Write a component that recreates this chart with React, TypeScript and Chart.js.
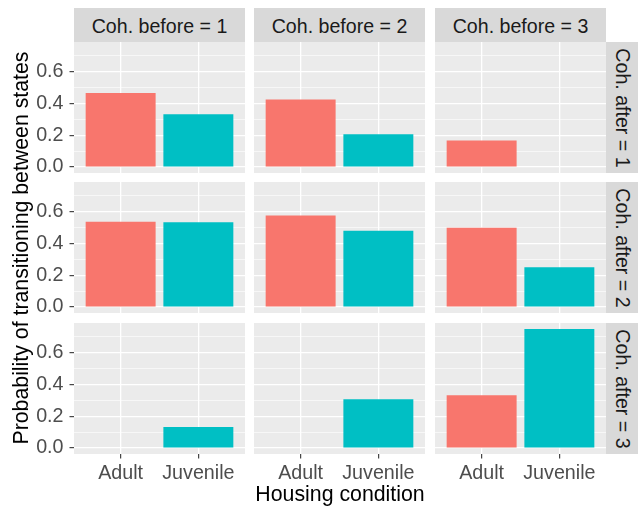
import React, { useEffect, useRef } from 'react';
import { Chart, registerables } from 'chart.js';

Chart.register(...registerables);

// ---- data ----
const conditions = ['Adult', 'Juvenile'];
const beforeLabels = ['Coh. before = 1', 'Coh. before = 2', 'Coh. before = 3'];
const afterLabels = ['Coh. after = 1', 'Coh. after = 2', 'Coh. after = 3'];
const adultAfter1 = [0.467, 0.425, 0.167];
const juvenileAfter1 = [0.333, 0.206, null];
const adultAfter2 = [0.537, 0.577, 0.5];
const juvenileAfter2 = [0.534, 0.48, 0.25];
const adultAfter3 = [null, null, 0.333];
const juvenileAfter3 = [0.133, 0.308, 0.75];
const yMajorTicks = [0, 0.2, 0.4, 0.6];
const yMinorTicks = [0.1, 0.3, 0.5, 0.7];
const yTickLabels = ['0.0', '0.2', '0.4', '0.6'];
const fillColors = ['#F8766D', '#00BFC4'];

const adultRows = [adultAfter1, adultAfter2, adultAfter3];
const juvenileRows = [juvenileAfter1, juvenileAfter2, juvenileAfter3];

// ---- layout ----
const FONT = '"Liberation Sans", Arial, Helvetica, sans-serif';
const colLeft = [74, 254, 435];
const rowTop = [42, 182, 323];
const PW = 171;
const PH = 131;
const M = 10;
const YAXW = 74;
const XAXH = 34;

const panelBg = {
  id: 'panelBg',
  beforeDraw(chart: any) {
    const { ctx, chartArea } = chart;
    ctx.save();
    ctx.fillStyle = '#EBEBEB';
    ctx.fillRect(chartArea.left, chartArea.top, chartArea.right - chartArea.left, chartArea.bottom - chartArea.top);
    ctx.restore();
  },
};

const isMajor = (v: number) => Math.round(v * 10) % 2 === 0;

function Panel({ row, col }: { row: number; col: number }) {
  const ref = useRef<HTMLCanvasElement>(null);
  const left = col === 0 ? 0 : colLeft[col] - M;
  const top = rowTop[row] - M;
  const width = colLeft[col] + PW + M - left;
  const height = PH + M + (row === 2 ? XAXH : M);

  useEffect(() => {
    const values = [adultRows[row][col], juvenileRows[row][col]];
    const showY = col === 0;
    const showX = row === 2;
    const chart = new Chart(ref.current as HTMLCanvasElement, {
      type: 'bar',
      data: {
        datasets: [
          {
            data: conditions.map((_, i) => ({ x: i, y: values[i] })) as any,
            backgroundColor: fillColors,
            borderWidth: 0,
            barPercentage: 0.9,
            categoryPercentage: 1,
          },
        ],
      },
      options: {
        animation: false,
        responsive: false,
        maintainAspectRatio: false,
        devicePixelRatio: 1,
        layout: {
          padding: { left: showY ? 0 : M, right: M, top: M, bottom: showX ? 0 : M },
        },
        plugins: { legend: { display: false }, tooltip: { enabled: false } },
        scales: {
          x: {
            type: 'linear',
            min: -0.6,
            max: 1.6,
            offset: false,
            afterBuildTicks: (s: any) => {
              s.ticks = conditions.map((_, i) => ({ value: i }));
            },
            afterFit: (s: any) => {
              s.height = showX ? XAXH : 0;
              s.paddingLeft = 0;
              s.paddingRight = 0;
              s.paddingTop = 0;
              s.paddingBottom = 0;
            },
            border: { display: false },
            grid: {
              offset: false,
              color: '#FFFFFF',
              lineWidth: 1.3,
              drawTicks: showX,
              tickLength: 4.5,
              tickColor: '#333333',
              tickWidth: 1.1,
            },
            ticks: {
              display: showX,
              autoSkip: false,
              maxRotation: 0,
              padding: 3,
              color: '#4D4D4D',
              font: { family: FONT, size: 19.7 },
              callback: (v: any) => conditions[Math.round(Number(v))],
            },
          },
          y: {
            type: 'linear',
            min: -0.0375,
            max: 0.7875,
            afterBuildTicks: (s: any) => {
              s.ticks = [...yMajorTicks, ...yMinorTicks]
                .sort((a, b) => a - b)
                .map((v) => ({ value: v }));
            },
            afterFit: (s: any) => {
              s.width = showY ? YAXW : 0;
              s.paddingLeft = 0;
              s.paddingRight = 0;
              s.paddingTop = 0;
              s.paddingBottom = 0;
            },
            border: { display: false },
            grid: {
              color: '#FFFFFF',
              lineWidth: (c: any) => (c.tick && isMajor(c.tick.value) ? 1.3 : 0.6),
              drawTicks: showY,
              tickLength: 4.5,
              tickColor: (c: any) => (c.tick && isMajor(c.tick.value) ? '#333333' : 'rgba(0,0,0,0)'),
              tickWidth: 1.1,
            },
            ticks: {
              display: showY,
              autoSkip: false,
              padding: 6,
              color: '#4D4D4D',
              font: { family: FONT, size: 19.7 },
              callback: (v: any) => {
                const idx = yMajorTicks.findIndex((t) => Math.abs(t - Number(v)) < 1e-9);
                return idx >= 0 ? yTickLabels[idx] : '';
              },
            },
          },
        },
      } as any,
      plugins: [panelBg],
    });
    return () => chart.destroy();
  }, [row, col]);

  return (
    <canvas
      ref={ref}
      width={width}
      height={height}
      style={{ position: 'absolute', left, top, width, height }}
    />
  );
}

export default function App() {
  const cells: React.ReactNode[] = [];
  for (let r = 0; r < 3; r++) {
    for (let c = 0; c < 3; c++) {
      cells.push(<Panel key={`${r}-${c}`} row={r} col={c} />);
    }
  }
  return (
    <div
      style={{
        position: 'fixed',
        left: 0,
        top: 0,
        width: 638,
        height: 510,
        background: '#FFFFFF',
        overflow: 'hidden',
        fontFamily: FONT,
      }}
    >
      {beforeLabels.map((t, c) => (
        <div
          key={t}
          style={{
            position: 'absolute',
            left: colLeft[c],
            top: 8,
            width: PW,
            height: 34,
            background: '#D9D9D9',
            color: '#1A1A1A',
            fontSize: 19.6,
            lineHeight: '34px',
            textAlign: 'center',
            whiteSpace: 'nowrap',
          }}
        >
          <span style={{ position: 'relative', top: 1 }}>{t}</span>
        </div>
      ))}
      {afterLabels.map((t, r) => (
        <div
          key={t}
          style={{
            position: 'absolute',
            left: 606,
            top: rowTop[r],
            width: 32,
            height: PH,
            background: '#D9D9D9',
          }}
        >
          <div
            style={{
              position: 'absolute',
              left: 16 - PH / 2,
              top: PH / 2 - 16,
              width: PH,
              height: 32,
              lineHeight: '32px',
              textAlign: 'center',
              color: '#1A1A1A',
              fontSize: 19.6,
              whiteSpace: 'nowrap',
              transform: 'rotate(90deg)',
            }}
          >
            {t}
          </div>
        </div>
      ))}
      {cells}
      <div
        style={{
          position: 'absolute',
          left: 21 - 200,
          top: 248 - 12,
          width: 400,
          height: 24,
          lineHeight: '24px',
          textAlign: 'center',
          fontSize: 21.3,
          color: '#000000',
          whiteSpace: 'nowrap',
          transform: 'rotate(-90deg)',
        }}
      >
        Probability of transitioning between states
      </div>
      <div
        style={{
          position: 'absolute',
          left: 340 - 200,
          top: 482,
          width: 400,
          height: 24,
          lineHeight: '24px',
          textAlign: 'center',
          fontSize: 21.3,
          color: '#000000',
          whiteSpace: 'nowrap',
        }}
      >
        Housing condition
      </div>
    </div>
  );
}
